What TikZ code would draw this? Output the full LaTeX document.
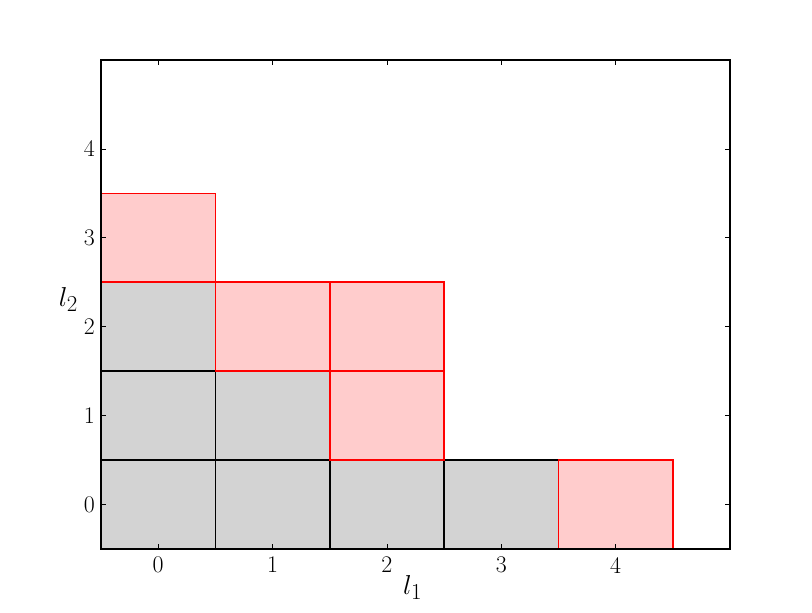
\documentclass[tikz,border=0pt]{standalone}
\usepackage{tikz}
\begin{document}
\begin{tikzpicture}[x=114.36pt,y=88.9pt,
  graycell/.style={fill={rgb,255:red,211;green,211;blue,211},draw=black,line width=1.6pt},
  redcell/.style={fill=red,fill opacity=0.2,draw=red,draw opacity=1,line width=1.6pt},
  tickmark/.style={line width=0.7pt},
  ticklab/.style={font=\huge},
  axlab/.style={font=\Huge}]
\useasboundingbox (-1.383,-1.209) rectangle (5.717,5.675);
% gray cells
\foreach \x/\y/\n in {0/0/g00,1/0/g10,2/0/g20,3/0/g30,0/1/g01,1/1/g11,0/2/g02}
  \draw[graycell] (\x-0.5,\y-0.5) rectangle (\x+0.5,\y+0.5) node[midway,inner sep=0] (\n) {};
% red cells
\foreach \x/\y/\n in {0/3/r03,1/2/r12,2/2/r22,2/1/r21,4/0/r40}
  \draw[redcell] (\x-0.5,\y-0.5) rectangle (\x+0.5,\y+0.5) node[midway,inner sep=0] (\n) {};
% axes frame
\draw[line width=1.3pt] (-0.5,-0.5) rectangle (5,5);
% ticks
\foreach \v in {0,1,2,3,4} {
  \draw[tickmark] (\v,-0.5) -- ++(0,5pt);
  \draw[tickmark] (\v,5) -- ++(0,-5pt);
  \draw[tickmark] (-0.5,\v) -- ++(5pt,0);
  \draw[tickmark] (5,\v) -- ++(-5pt,0);
  \node[ticklab,anchor=north,inner sep=0] (xt\v) at ([yshift=-8pt]\v,-0.5) {\scalebox{1.15}{\v}};
  \node[ticklab,anchor=east,inner sep=0] (yt\v) at ([xshift=-6pt]-0.5,\v) {\scalebox{1.15}{\v}};
}
\node[axlab] (lx) at (2.225,-0.935) {\scalebox{1.1}{$l_1$}};
\node[axlab] (ly) at (-0.785,2.305) {\scalebox{1.1}{$l_2$}};
\end{tikzpicture}
\end{document}
